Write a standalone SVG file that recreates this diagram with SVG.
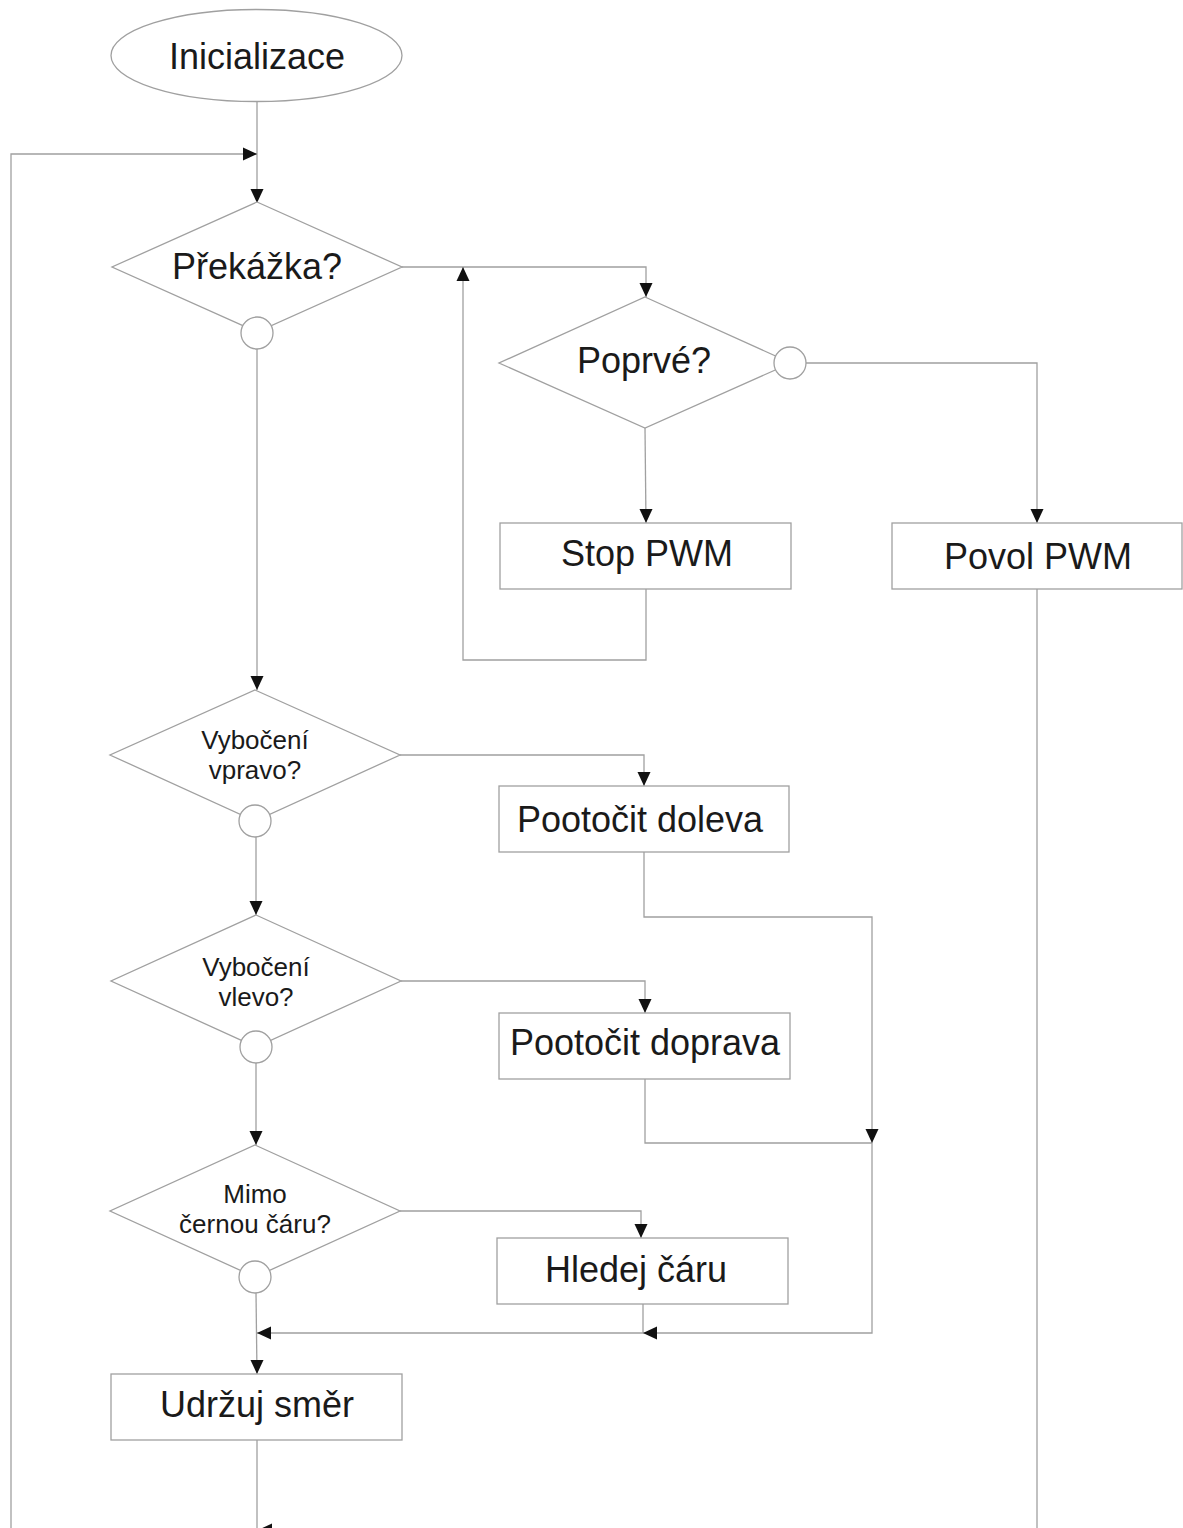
<svg xmlns="http://www.w3.org/2000/svg" xmlns:xlink="http://www.w3.org/1999/xlink" width="1183" height="1528" viewBox="0 0 1183 1528">
<style>
.sh{fill:#fff;stroke:#a0a0a0;stroke-width:1.3}
.cn{fill:none;stroke:#a0a0a0;stroke-width:1.3}
.t{font-family:"Liberation Sans",Arial,sans-serif;fill:#1a1a1a;text-anchor:middle}
.big{font-size:36px}
.sm{font-size:26px}
.ah{fill:#111}
</style>
<defs>
<path id="ah" class="ah" d="M0,0 L-14,-6.5 L-14,6.5 Z"/>
</defs>
<rect width="1183" height="1528" fill="#fff"/>
<g id="connectors">
<path class="cn" d="M257,101 V203"/>
<path class="cn" d="M11,1528 V154 H257"/>
<path class="cn" d="M257,1440 V1528"/>
<path class="cn" d="M402,267 H646 V297"/>
<path class="cn" d="M646,589 V660 H463 V267"/>
<path class="cn" d="M645,428 L646,523"/>
<path class="cn" d="M806,363 H1037 V523"/>
<path class="cn" d="M1037,589 V1528"/>
<path class="cn" d="M257,349 V690"/>
<path class="cn" d="M400,755 H644 V786"/>
<path class="cn" d="M256,837 V915"/>
<path class="cn" d="M644,852 V917 H872 V1333 H257"/>
<path class="cn" d="M401,981 H645 V1013"/>
<path class="cn" d="M645,1079 V1143 H872"/>
<path class="cn" d="M256,1063 V1145"/>
<path class="cn" d="M400,1211 H641 V1238"/>
<path class="cn" d="M643,1304 V1333"/>
<path class="cn" d="M256,1293 L257,1374"/>
<use xlink:href="#ah" transform="translate(257,203) rotate(90)"/>
<use xlink:href="#ah" transform="translate(257,154)"/>
<use xlink:href="#ah" transform="translate(646,297) rotate(90)"/>
<use xlink:href="#ah" transform="translate(463,267) rotate(-90)"/>
<use xlink:href="#ah" transform="translate(646,523) rotate(90)"/>
<use xlink:href="#ah" transform="translate(1037,523) rotate(90)"/>
<use xlink:href="#ah" transform="translate(257,690) rotate(90)"/>
<use xlink:href="#ah" transform="translate(644,786) rotate(90)"/>
<use xlink:href="#ah" transform="translate(256,915) rotate(90)"/>
<use xlink:href="#ah" transform="translate(872,1143) rotate(90)"/>
<use xlink:href="#ah" transform="translate(645,1013) rotate(90)"/>
<use xlink:href="#ah" transform="translate(256,1145) rotate(90)"/>
<use xlink:href="#ah" transform="translate(641,1238) rotate(90)"/>
<use xlink:href="#ah" transform="translate(643,1333) rotate(180)"/>
<use xlink:href="#ah" transform="translate(257,1333) rotate(180)"/>
<use xlink:href="#ah" transform="translate(257,1374) rotate(90)"/>
<use xlink:href="#ah" transform="translate(258,1530) rotate(180)"/>
</g>
<g id="inicializace">
<ellipse class="sh" cx="256.5" cy="55.5" rx="145.5" ry="46"/>
<text class="t big" x="257" y="69">Inicializace</text>
</g>
<g id="prekazka">
<path class="sh" d="M257,202 L402,267 L257,332 L112,267 Z"/>
<circle class="sh" cx="257" cy="333" r="16"/>
<text class="t big" x="257" y="279">Překážka?</text>
</g>
<g id="poprve">
<path class="sh" d="M645,297 L791,363 L645,428 L499,363 Z"/>
<circle class="sh" cx="790" cy="363" r="16"/>
<text class="t big" x="644" y="373">Poprvé?</text>
</g>
<g id="stop-pwm">
<rect class="sh" x="500" y="523" width="291" height="66"/>
<text class="t big" x="647" y="566">Stop PWM</text>
</g>
<g id="povol-pwm">
<rect class="sh" x="892" y="523" width="290" height="66"/>
<text class="t big" x="1038" y="569">Povol PWM</text>
</g>
<g id="vybo-vpravo">
<path class="sh" d="M255,690 L400,755 L255,821 L110,755 Z"/>
<circle class="sh" cx="255" cy="821" r="16"/>
<text class="t sm" x="255" y="749">Vybočení</text>
<text class="t sm" x="255" y="779">vpravo?</text>
</g>
<g id="pootocit-doleva">
<rect class="sh" x="499" y="786" width="290" height="66"/>
<text class="t big" x="640" y="832">Pootočit doleva</text>
</g>
<g id="vybo-vlevo">
<path class="sh" d="M256,915 L401,981 L256,1047 L111,981 Z"/>
<circle class="sh" cx="256" cy="1047" r="16"/>
<text class="t sm" x="256" y="976">Vybočení</text>
<text class="t sm" x="256" y="1006">vlevo?</text>
</g>
<g id="pootocit-doprava">
<rect class="sh" x="499" y="1013" width="291" height="66"/>
<text class="t big" x="645" y="1055">Pootočit doprava</text>
</g>
<g id="mimo">
<path class="sh" d="M255,1145 L400,1211 L255,1277 L110,1211 Z"/>
<circle class="sh" cx="255" cy="1277" r="16"/>
<text class="t sm" x="255" y="1203">Mimo</text>
<text class="t sm" x="255" y="1233">černou čáru?</text>
</g>
<g id="hledej">
<rect class="sh" x="497" y="1238" width="291" height="66"/>
<text class="t big" x="636" y="1282">Hledej čáru</text>
</g>
<g id="udrzuj">
<rect class="sh" x="111" y="1374" width="291" height="66"/>
<text class="t big" x="257" y="1417">Udržuj směr</text>
</g>
</svg>
